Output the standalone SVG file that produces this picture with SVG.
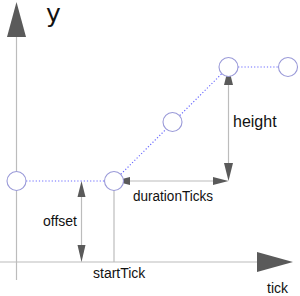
<svg xmlns="http://www.w3.org/2000/svg" width="300" height="296" viewBox="0 0 300 296">
<style>
.ax{stroke:#bcbcbc;stroke-width:1.2;fill:none}
.ah{fill:#5a5a5a;stroke:none}
.dot{stroke:#6a6aff;stroke-width:1.2;stroke-dasharray:1.2 2;fill:none}
.pt{fill:#fff;stroke:#9a9ad8;stroke-width:1.1}
.t{font-family:"Liberation Sans",Arial,sans-serif;font-size:14px;fill:#111}
</style>
<g id="connectors">
  <line class="ax" x1="16.5" y1="36" x2="16.5" y2="280"/>
  <polygon class="ah" points="16.5,2 7,37 26,37"/>
  <line class="ax" x1="0" y1="262" x2="258" y2="262"/>
  <polygon class="ah" points="293,262 257,252 257,272"/>
  <line class="ax" x1="114" y1="181" x2="114" y2="262"/>
  <line class="ax" x1="81.5" y1="195" x2="81.5" y2="247"/>
  <polygon class="ah" points="81.5,181 77.5,197 85.5,197"/>
  <polygon class="ah" points="81.5,262 77.5,245 85.5,245"/>
  <line class="ax" x1="228.5" y1="84" x2="228.5" y2="166"/>
  <polygon class="ah" points="228.5,67 224,85 233,85"/>
  <polygon class="ah" points="228.5,181 224,163 233,163"/>
  <line class="ax" x1="128" y1="181" x2="215" y2="181"/>
  <polygon class="ah" points="114,181 130,177 130,185"/>
  <polygon class="ah" points="228.5,181 213,177 213,185"/>
  <line class="dot" x1="16.5" y1="181" x2="114" y2="181"/>
  <line class="dot" x1="114" y1="181" x2="228.5" y2="67"/>
  <line class="dot" x1="228.5" y1="67" x2="288" y2="67"/>
</g>
<g id="p1"><circle class="pt" cx="16.5" cy="181" r="9.5"/></g>
<g id="p2"><circle class="pt" cx="114" cy="181" r="9.5"/></g>
<g id="p3"><circle class="pt" cx="172.5" cy="122" r="9.5"/></g>
<g id="p4"><circle class="pt" cx="228.5" cy="67" r="9.5"/></g>
<g id="p5"><circle class="pt" cx="288" cy="67" r="9.5"/></g>
<g id="labels">
  <text x="46" y="22" style="font-family:'DejaVu Sans',sans-serif;font-size:25px;fill:#111">y</text>
  <text class="t" x="233" y="127" style="font-size:16px">height</text>
  <text class="t" x="133" y="201" textLength="80" lengthAdjust="spacingAndGlyphs">durationTicks</text>
  <text class="t" x="43" y="226">offset</text>
  <text class="t" x="93" y="278">startTick</text>
  <text class="t" x="267" y="293">tick</text>
</g>
</svg>
